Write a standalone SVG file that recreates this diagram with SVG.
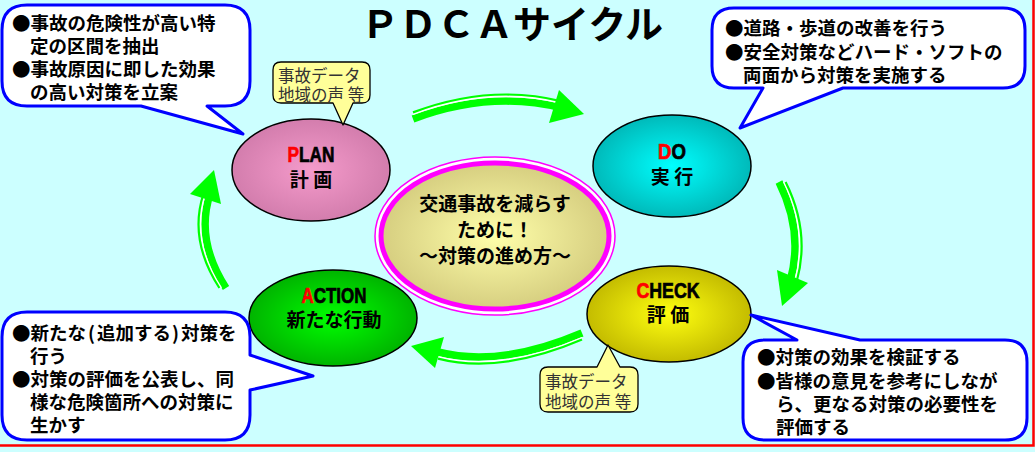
<svg xmlns="http://www.w3.org/2000/svg" width="1035" height="452" viewBox="0 0 1035 452">
<defs>
<radialGradient id="gPlan" cx="50%" cy="50%" r="50%"><stop offset="0" stop-color="#F59BCB"/><stop offset="1" stop-color="#D37DAD"/></radialGradient>
<radialGradient id="gDo" cx="50%" cy="50%" r="50%"><stop offset="0" stop-color="#00FFFF"/><stop offset="1" stop-color="#00BABA"/></radialGradient>
<radialGradient id="gCheck" cx="50%" cy="50%" r="50%"><stop offset="0" stop-color="#FFFF10"/><stop offset="1" stop-color="#C4BC00"/></radialGradient>
<radialGradient id="gAct" cx="50%" cy="50%" r="50%"><stop offset="0" stop-color="#00FF00"/><stop offset="1" stop-color="#00B400"/></radialGradient>
<radialGradient id="gCenter" cx="50%" cy="50%" r="50%"><stop offset="0" stop-color="#FFFFAA"/><stop offset="1" stop-color="#D6CE80"/></radialGradient>
<style>
.call{fill:#FFFFFF;stroke:#0000FF;stroke-width:3;stroke-linejoin:round}
.small{fill:#FFFF99;stroke:#000000;stroke-width:1.3;stroke-linejoin:round}
.ct{font-family:"Noto Sans CJK JP","Noto Sans CJK SC",sans-serif;font-weight:bold;font-size:18.5px;fill:#000}
.st{font-family:"Noto Sans CJK JP","Noto Sans CJK SC",sans-serif;font-size:16.5px;fill:#333}
.el{stroke:#000;stroke-width:1.5}
.en{font-family:"Liberation Sans",Arial,sans-serif;font-weight:bold;font-size:22px;fill:#000;stroke:#000;stroke-width:0.7;text-anchor:middle}
.jp{font-family:"Noto Sans CJK JP","Noto Sans CJK SC",sans-serif;font-weight:bold;font-size:19px;fill:#000;text-anchor:middle}
.red{fill:#FF0000;stroke:#FF0000}
.body{fill:none;stroke:#00FF00;stroke-width:7.5}
.gap{fill:none;stroke:#FFFFFF;stroke-width:1.6}
.thin{fill:none;stroke:#00FF00;stroke-width:2.2}
.head{fill:#00FF00}
</style>
</defs>
<rect x="0" y="0" width="1035" height="452" fill="#CCFFFF"/>
<path d="M0,445.5 H1033.5 V0" fill="none" stroke="#FF0000" stroke-width="2.5"/>
<text x="361" y="38" font-family="'Noto Sans CJK JP','Noto Sans CJK SC',sans-serif" font-weight="bold" font-size="38" fill="#000">ＰＤＣＡサイクル</text>

<g id="connectors">
  <g id="arrow-plan-do">
    <path class="body" d="M413,119 Q490,90 562,108"/>
    <path class="gap" d="M413,114.3 Q490,85.3 562,103.3"/>
    <path class="thin" d="M413,112.4 Q490,83.4 562,101.4"/>
    <polygon class="head" points="584,114 559,90 549,123"/>
  </g>
  <g id="arrow-do-check">
    <path class="body" d="M779,182 Q804,232 790,282"/>
    <path class="gap" d="M783.7,182 Q808.7,232 794.7,282"/>
    <path class="thin" d="M785.6,182 Q810.6,232 796.6,282"/>
    <polygon class="head" points="782,306 777,270 808,283"/>
  </g>
  <g id="arrow-check-action">
    <path class="body" d="M582,333 Q500,368 438,352"/>
    <path class="gap" d="M582,337.7 Q500,372.7 438,356.7"/>
    <path class="thin" d="M582,339.6 Q500,374.6 438,358.6"/>
    <polygon class="head" points="411,346 444,337 435,368"/>
  </g>
  <g id="arrow-action-plan">
    <path class="body" d="M226,288 Q195,240 210,194"/>
    <path class="gap" d="M221.3,288 Q190.3,240 205.3,194"/>
    <path class="thin" d="M219.4,288 Q188.4,240 203.4,194"/>
    <polygon class="head" points="214,170 190,194 221,204"/>
  </g>
</g>

<g id="center">
  <ellipse cx="495" cy="236" rx="120" ry="79" fill="#FFFFFF" stroke="#FF00FF" stroke-width="1.5"/>
  <ellipse cx="495" cy="236" rx="114" ry="73" fill="url(#gCenter)" stroke="#FF00FF" stroke-width="5"/>
  <text class="jp" x="495" y="211" font-size="18">交通事故を減らす</text>
  <text class="jp" x="495" y="237" font-size="18">ために！</text>
  <text class="jp" x="495" y="263" font-size="18">～対策の進め方～</text>
</g>

<g id="plan">
  <ellipse class="el" cx="311" cy="170" rx="79" ry="51" fill="url(#gPlan)"/>
  <text class="en" x="311" y="162" textLength="47" lengthAdjust="spacingAndGlyphs"><tspan class="red">P</tspan>LAN</text>
  <text class="jp" x="311" y="187">計 画</text>
</g>
<g id="do">
  <ellipse class="el" cx="672" cy="166" rx="79" ry="51" fill="url(#gDo)"/>
  <text class="en" x="672" y="159" textLength="28" lengthAdjust="spacingAndGlyphs"><tspan class="red">D</tspan>O</text>
  <text class="jp" x="672" y="184">実 行</text>
</g>
<g id="check">
  <ellipse class="el" cx="669" cy="314" rx="82" ry="48" fill="url(#gCheck)"/>
  <text class="en" x="668" y="298" textLength="63" lengthAdjust="spacingAndGlyphs"><tspan class="red">C</tspan>HECK</text>
  <text class="jp" x="668" y="322">評 価</text>
</g>
<g id="action">
  <ellipse class="el" cx="333" cy="318" rx="84" ry="48" fill="url(#gAct)"/>
  <text class="en" x="334" y="303" textLength="65" lengthAdjust="spacingAndGlyphs"><tspan class="red">A</tspan>CTION</text>
  <text class="jp" x="334" y="327">新たな行動</text>
</g>

<g id="callout-plan">
  <path class="call" d="M27,5 H225 Q250,5 250,30 V81 Q250,106 225,106 H207 L243,134 L141,106 H27 Q2,106 2,81 V30 Q2,5 27,5 Z"/>
  <text class="ct" x="12" y="30">●事故の危険性が高い特</text>
  <text class="ct" x="30" y="53">定の区間を抽出</text>
  <text class="ct" x="12" y="76">●事故原因に即した効果</text>
  <text class="ct" x="30" y="99">の高い対策を立案</text>
</g>
<g id="note-plan">
  <path class="small" d="M281,62 H362 Q370,62 370,70 V95 Q370,103 362,103 H353 L343,125 L333,103 H281 Q273,103 273,95 V70 Q273,62 281,62 Z"/>
  <text class="st" x="278" y="82">事故データ</text>
  <text class="st" x="278" y="101">地域の声 等</text>
</g>
<g id="callout-do">
  <path class="call" d="M734,8 H1003 Q1025,8 1025,30 V66 Q1025,88 1003,88 H843 L740,128 L763,88 H734 Q712,88 712,66 V30 Q712,8 734,8 Z"/>
  <text class="ct" x="725" y="35">●道路・歩道の改善を行う</text>
  <text class="ct" x="725" y="59">●安全対策などハード・ソフトの</text>
  <text class="ct" x="743" y="82">両面から対策を実施する</text>
</g>
<g id="callout-check">
  <path class="call" d="M765,340 H797 L751,315 L860,340 H1005 Q1027,340 1027,362 V418 Q1027,440 1005,440 H765 Q743,440 743,418 V362 Q743,340 765,340 Z"/>
  <text class="ct" x="757" y="364">●対策の効果を検証する</text>
  <text class="ct" x="757" y="388">●皆様の意見を参考にしなが</text>
  <text class="ct" x="776" y="411">ら、更なる対策の必要性を</text>
  <text class="ct" x="776" y="434">評価する</text>
</g>
<g id="note-check">
  <path class="small" d="M548,367 H597 L608,345 L620,367 H630 Q638,367 638,375 V404 Q638,412 630,412 H548 Q540,412 540,404 V375 Q540,367 548,367 Z"/>
  <text class="st" x="545" y="388">事故データ</text>
  <text class="st" x="545" y="408">地域の声 等</text>
</g>
<g id="callout-action">
  <path class="call" d="M27,312 H225 Q250,312 250,337 V355 L313,376 L250,390 V415 Q250,440 225,440 H27 Q2,440 2,415 V337 Q2,312 27,312 Z"/>
  <text class="ct" x="12" y="340">●新たな<tspan dx="2">(</tspan><tspan dx="2">追加する</tspan><tspan dx="1">)</tspan><tspan dx="2">対策を</tspan></text>
  <text class="ct" x="30" y="363">行う</text>
  <text class="ct" x="12" y="386">●対策の評価を公表し、同</text>
  <text class="ct" x="30" y="409">様な危険箇所への対策に</text>
  <text class="ct" x="30" y="432">生かす</text>
</g>
</svg>
